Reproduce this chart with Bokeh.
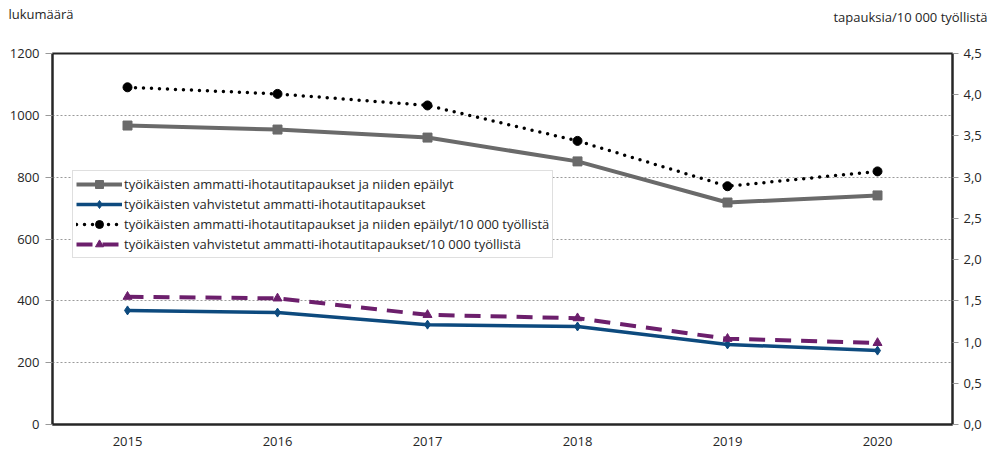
from bokeh.plotting import figure
from bokeh.models import (Range1d, FactorRange, LinearAxis, FixedTicker,
                          CustomJSTickFormatter, Legend, LegendItem, Title)
from bokeh.embed import file_html
from bokeh.resources import INLINE

years = ["2015", "2016", "2017", "2018", "2019", "2020"]
all_cases = [967, 954, 928, 851, 718, 741]
confirmed = [369, 362, 323, 317, 259, 239]
all_rate = [4.09, 4.01, 3.87, 3.44, 2.89, 3.07]
confirmed_rate = [1.55, 1.53, 1.33, 1.29, 1.04, 0.99]
left_ticks = [0, 200, 400, 600, 800, 1000, 1200]
right_ticks = [0.0, 0.5, 1.0, 1.5, 2.0, 2.5, 3.0, 3.5, 4.0, 4.5]
series_labels = [
    "työikäisten ammatti-ihotautitapaukset ja niiden epäilyt",
    "työikäisten vahvistetut ammatti-ihotautitapaukset",
    "työikäisten ammatti-ihotautitapaukset ja niiden epäilyt/10 000 työllistä",
    "työikäisten vahvistetut ammatti-ihotautitapaukset/10 000 työllistä",
]
left_title = "lukumäärä"
right_title = "tapauksia/10 000 työllistä"

FONT = "Open Sans"
TXT = "#262626"

p = figure(width=990, height=451, x_range=FactorRange(*years, range_padding=0),
           y_range=Range1d(0, 1200), output_backend="svg", toolbar_location=None,
           min_border_left=52, min_border_right=38, min_border_top=53, min_border_bottom=27)
p.extra_y_ranges = {"r": Range1d(0, 4.5)}
p.title.text = ""

p.outline_line_color = "#262626"
p.outline_line_width = 2
p.xgrid.grid_line_color = None
p.ygrid.grid_line_color = "#9a9a9a"
p.ygrid.grid_line_dash = "2 2"
p.ygrid.grid_line_width = 1
p.ygrid.ticker = FixedTicker(ticks=left_ticks)

# left axis
ya = p.yaxis[0]
ya.ticker = FixedTicker(ticks=left_ticks)
ya.axis_line_color = "#262626"
ya.axis_line_width = 2
ya.major_tick_line_color = "#999999"
ya.major_tick_out = 7
ya.major_tick_in = 0
ya.minor_tick_line_color = None
ya.major_label_standoff = 6
ya.major_label_text_font = FONT
ya.major_label_text_font_size = "13px"
ya.major_label_text_color = TXT

# bottom axis
xa = p.xaxis[0]
xa.axis_line_color = "#262626"
xa.axis_line_width = 2
xa.major_tick_line_color = None
xa.major_tick_out = 0
xa.major_label_standoff = 12
xa.major_label_text_font = FONT
xa.major_label_text_font_size = "13px"
xa.major_label_text_color = TXT

# right axis
ra = LinearAxis(y_range_name="r", ticker=FixedTicker(ticks=right_ticks),
                formatter=CustomJSTickFormatter(code="return tick.toFixed(1).replace('.', ',');"))
ra.axis_line_color = "#262626"
ra.axis_line_width = 2
ra.major_tick_line_color = "#999999"
ra.major_tick_out = 6
ra.major_tick_in = 0
ra.minor_tick_line_color = None
ra.major_label_standoff = 5
ra.major_label_text_font = FONT
ra.major_label_text_font_size = "13px"
ra.major_label_text_color = TXT
p.add_layout(ra, "right")

GRAY = "#6a6a6a"
BLUE = "#0d4a7e"
BLACK = "#000000"
PURPLE = "#6c1f6c"

l1 = p.line(years, all_cases, line_color=GRAY, line_width=4)
m1 = p.scatter(years, all_cases, marker="square", size=9, fill_color=GRAY, line_color=GRAY)

l2 = p.line(years, confirmed, line_color=BLUE, line_width=3.5)
m2 = p.scatter(years, confirmed, marker="diamond", size=9, fill_color=BLUE, line_color=BLUE)

l3 = p.line(years, all_rate, y_range_name="r", line_color=BLACK, line_width=3.5,
            line_dash="0 8", line_cap="round")
m3 = p.scatter(years, all_rate, y_range_name="r", marker="circle", size=9,
               fill_color=BLACK, line_color=BLACK)

l4 = p.line(years, confirmed_rate, y_range_name="r", line_color=PURPLE, line_width=4,
            line_dash="16 10")
m4 = p.scatter(years, confirmed_rate, y_range_name="r", marker="triangle", size=9,
               fill_color=PURPLE, line_color=PURPLE)

legend = Legend(items=[
    LegendItem(label=series_labels[0], renderers=[l1, m1]),
    LegendItem(label=series_labels[1], renderers=[l2, m2]),
    LegendItem(label=series_labels[2], renderers=[l3, m3]),
    LegendItem(label=series_labels[3], renderers=[l4, m4]),
], location=(20, 166))
legend.label_text_font = FONT
legend.label_text_font_size = "13px"
legend.label_text_color = TXT
legend.glyph_width = 46
legend.glyph_height = 20
legend.label_height = 20
legend.spacing = 0
legend.padding = 3
legend.margin = 0
legend.label_standoff = 2
legend.border_line_color = "#bfbfbf"
legend.border_line_width = 1
legend.background_fill_alpha = 1
p.add_layout(legend, "center")

# axis titles on one row above the plot: a blank spacer panel next to the frame,
# then two almost flat title panels whose texts hang at the same height
spacer = Title(text=" ", standoff=14, text_font=FONT, text_font_size="13px")
t_right = Title(text=right_title, align="right", vertical_align="top", offset=-35,
                standoff=-17.5, text_font=FONT, text_font_size="13px",
                text_font_style="normal", text_color=TXT)
t_left = Title(text=left_title, align="left", vertical_align="top", offset=-44,
               standoff=-17.5, text_font=FONT, text_font_size="13px",
               text_font_style="normal", text_color=TXT)
p.add_layout(spacer, "above")
p.add_layout(t_right, "above")
p.add_layout(t_left, "above")

open("out.html", "w").write(file_html(p, INLINE))
